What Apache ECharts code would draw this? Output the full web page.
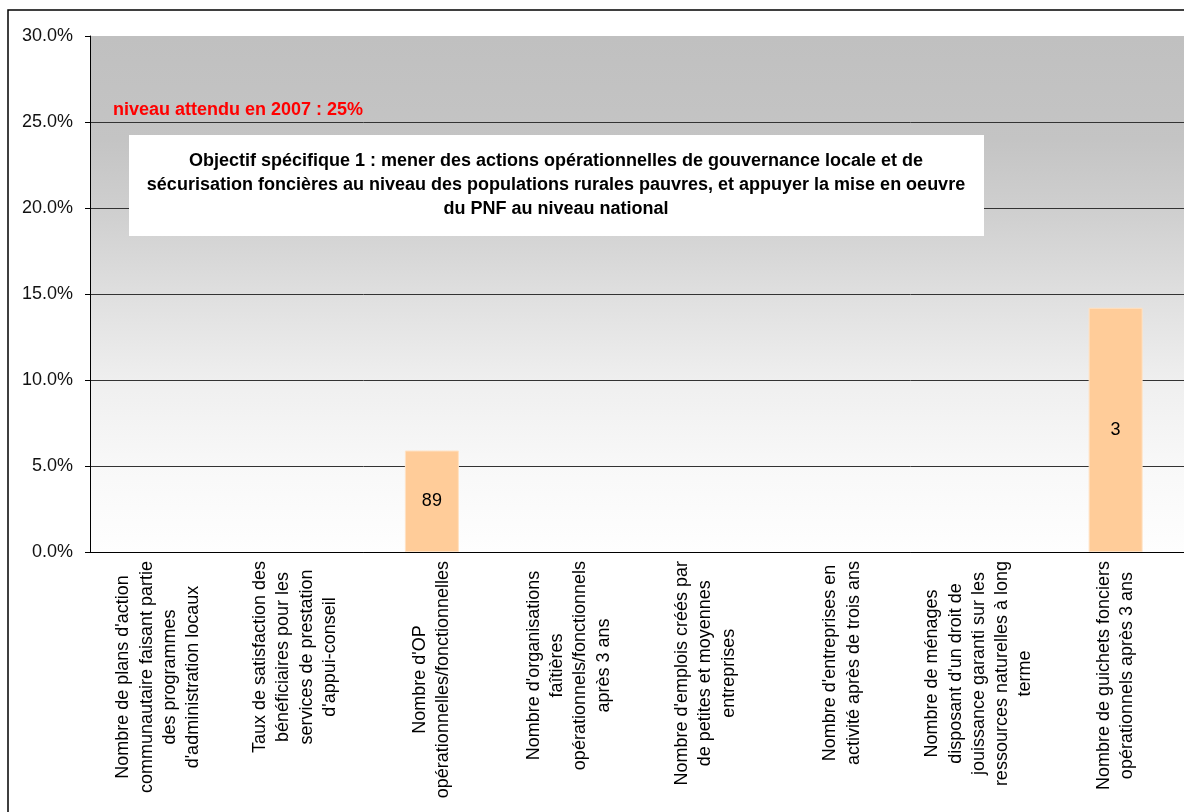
<!DOCTYPE html>
<html>
	<head>
		<meta charset="UTF-8">
		<title>Objectif spécifique 1</title>
		<style type="text/css">
			body{
				margin: 0;
				background: #fff;
			}
			#main{
				width: 1184px;
				height: 812px;
			}
		</style>
	</head>
	<body>
		<div id="main"></div>
		<script src="https://cdn.jsdelivr.net/npm/echarts@6/dist/echarts.min.js"></script>
		<script type="text/javascript">
			// catégories (une ligne par élément)
			var categories = [
				["Nombre de plans d'action", "communautaire faisant partie", "des programmes", "d'administration locaux"],
				["Taux de satisfaction des", "bénéficiaires pour les", "services de prestation", "d'appui-conseil"],
				["Nombre d'OP", "opérationnelles/fonctionnelles"],
				["Nombre d'organisations", "faîtières", "opérationnels/fonctionnels", "après 3 ans"],
				["Nombre d'emplois créés par", "de petites et moyennes", "entreprises"],
				["Nombre d'entreprises en", "activité après de trois ans"],
				["Nombre de ménages", "disposant d'un droit de", "jouissance garanti sur les", "ressources naturelles à long", "terme"],
				["Nombre de guichets fonciers", "opérationnels après 3 ans"]
			];
			// taux de réalisation (%)
			var values = [null, null, 5.9, null, null, null, null, 14.2];
			// valeurs affichées dans les barres
			var barLabels = ['', '', '89', '', '', '', '', '3'];
			var yTicks = [0, 5, 10, 15, 20, 25, 30];
			var targetText = 'niveau attendu en 2007 : 25%';
			var titleText = "Objectif spécifique 1 : mener des actions opérationnelles de gouvernance locale et de\nsécurisation foncières au niveau des populations rurales pauvres, et appuyer la mise en oeuvre\ndu PNF au niveau national";

			var font = "'Liberation Sans', Arial, sans-serif";
			var catNames = [];
			for(var i = 0; i < categories.length; i++){
				catNames.push(categories[i].join('\n'));
			}
			// pas de ligne au sommet (30%)
			var gridColors = [];
			for(var j = 0; j < yTicks.length; j++){
				gridColors.push(j == yTicks.length - 1 ? 'rgba(0,0,0,0)' : '#333');
			}

			var myChart = echarts.init(document.getElementById('main'));
			var option = {
				animation: false,
				textStyle: {fontFamily: font},
				grid: {
					left: 90,
					top: 36,
					width: 1096,
					bottom: 260,
					show: true,
					borderWidth: 0,
					backgroundColor: {
						type: 'linear', x: 0, y: 0, x2: 0, y2: 1,
						colorStops: [
							{offset: 0, color: '#c0c0c0'},
							{offset: 0.2, color: '#c4c4c4'},
							{offset: 0.35, color: '#d0d0d0'},
							{offset: 0.5, color: '#dfdfdf'},
							{offset: 0.67, color: '#efefef'},
							{offset: 0.83, color: '#f8f8f8'},
							{offset: 1, color: '#fefefe'}
						]
					}
				},
				xAxis: {
					type: 'category',
					data: catNames,
					axisLine: {lineStyle: {color: '#000', width: 1}},
					axisTick: {length: 5, lineStyle: {color: '#000'}},
					axisLabel: {
						interval: 0,
						rotate: 90,
						margin: 9,
						color: '#000',
						formatter: function(v){
							return v.split('\n').map(function(s){ return '{c|' + s + '}'; }).join('\n');
						},
						rich: {
							c: {align: 'center', fontSize: 18, lineHeight: 23.3, color: '#000', fontFamily: font}
						}
					}
				},
				yAxis: {
					type: 'value',
					min: yTicks[0],
					max: yTicks[yTicks.length - 1],
					interval: 5,
					axisLine: {show: true, lineStyle: {color: '#000', width: 1}},
					axisTick: {show: true, length: 5, lineStyle: {color: '#000'}},
					axisLabel: {
						margin: 17,
						fontSize: 18,
						color: '#111',
						formatter: function(v){ return v.toFixed(1) + '%'; }
					},
					splitLine: {show: true, lineStyle: {color: gridColors, width: 1}}
				},
				series: [
					{
						type: 'bar',
						data: values,
						barWidth: 54,
						itemStyle: {color: '#ffcc99', borderColor: '#ffe2c4', borderWidth: 1},
						label: {
							show: true,
							position: 'inside',
							fontSize: 18,
							color: '#000',
							formatter: function(p){ return barLabels[p.dataIndex]; }
						}
					}
				],
				graphic: [
					{
						type: 'rect',
						shape: {x: 8, y: 10, width: 1300, height: 1000},
						style: {fill: 'none', stroke: '#000', lineWidth: 1.5},
						z: 100
					},
					{
						type: 'text',
						left: 113,
						top: 101,
						style: {text: targetText, fill: '#ff0000', font: 'bold 18px ' + font},
						z: 100
					},
					{
						type: 'rect',
						shape: {x: 129, y: 135, width: 855, height: 101},
						style: {fill: '#fff'},
						z: 100
					},
					{
						type: 'text',
						x: 556,
						y: 185.5,
						style: {
							text: titleText,
							fill: '#000',
							font: 'bold 18px ' + font,
							lineHeight: 24,
							align: 'center',
							verticalAlign: 'middle'
						},
						z: 101
					}
				]
			};
			myChart.setOption(option);
		</script>
	</body>
</html>
